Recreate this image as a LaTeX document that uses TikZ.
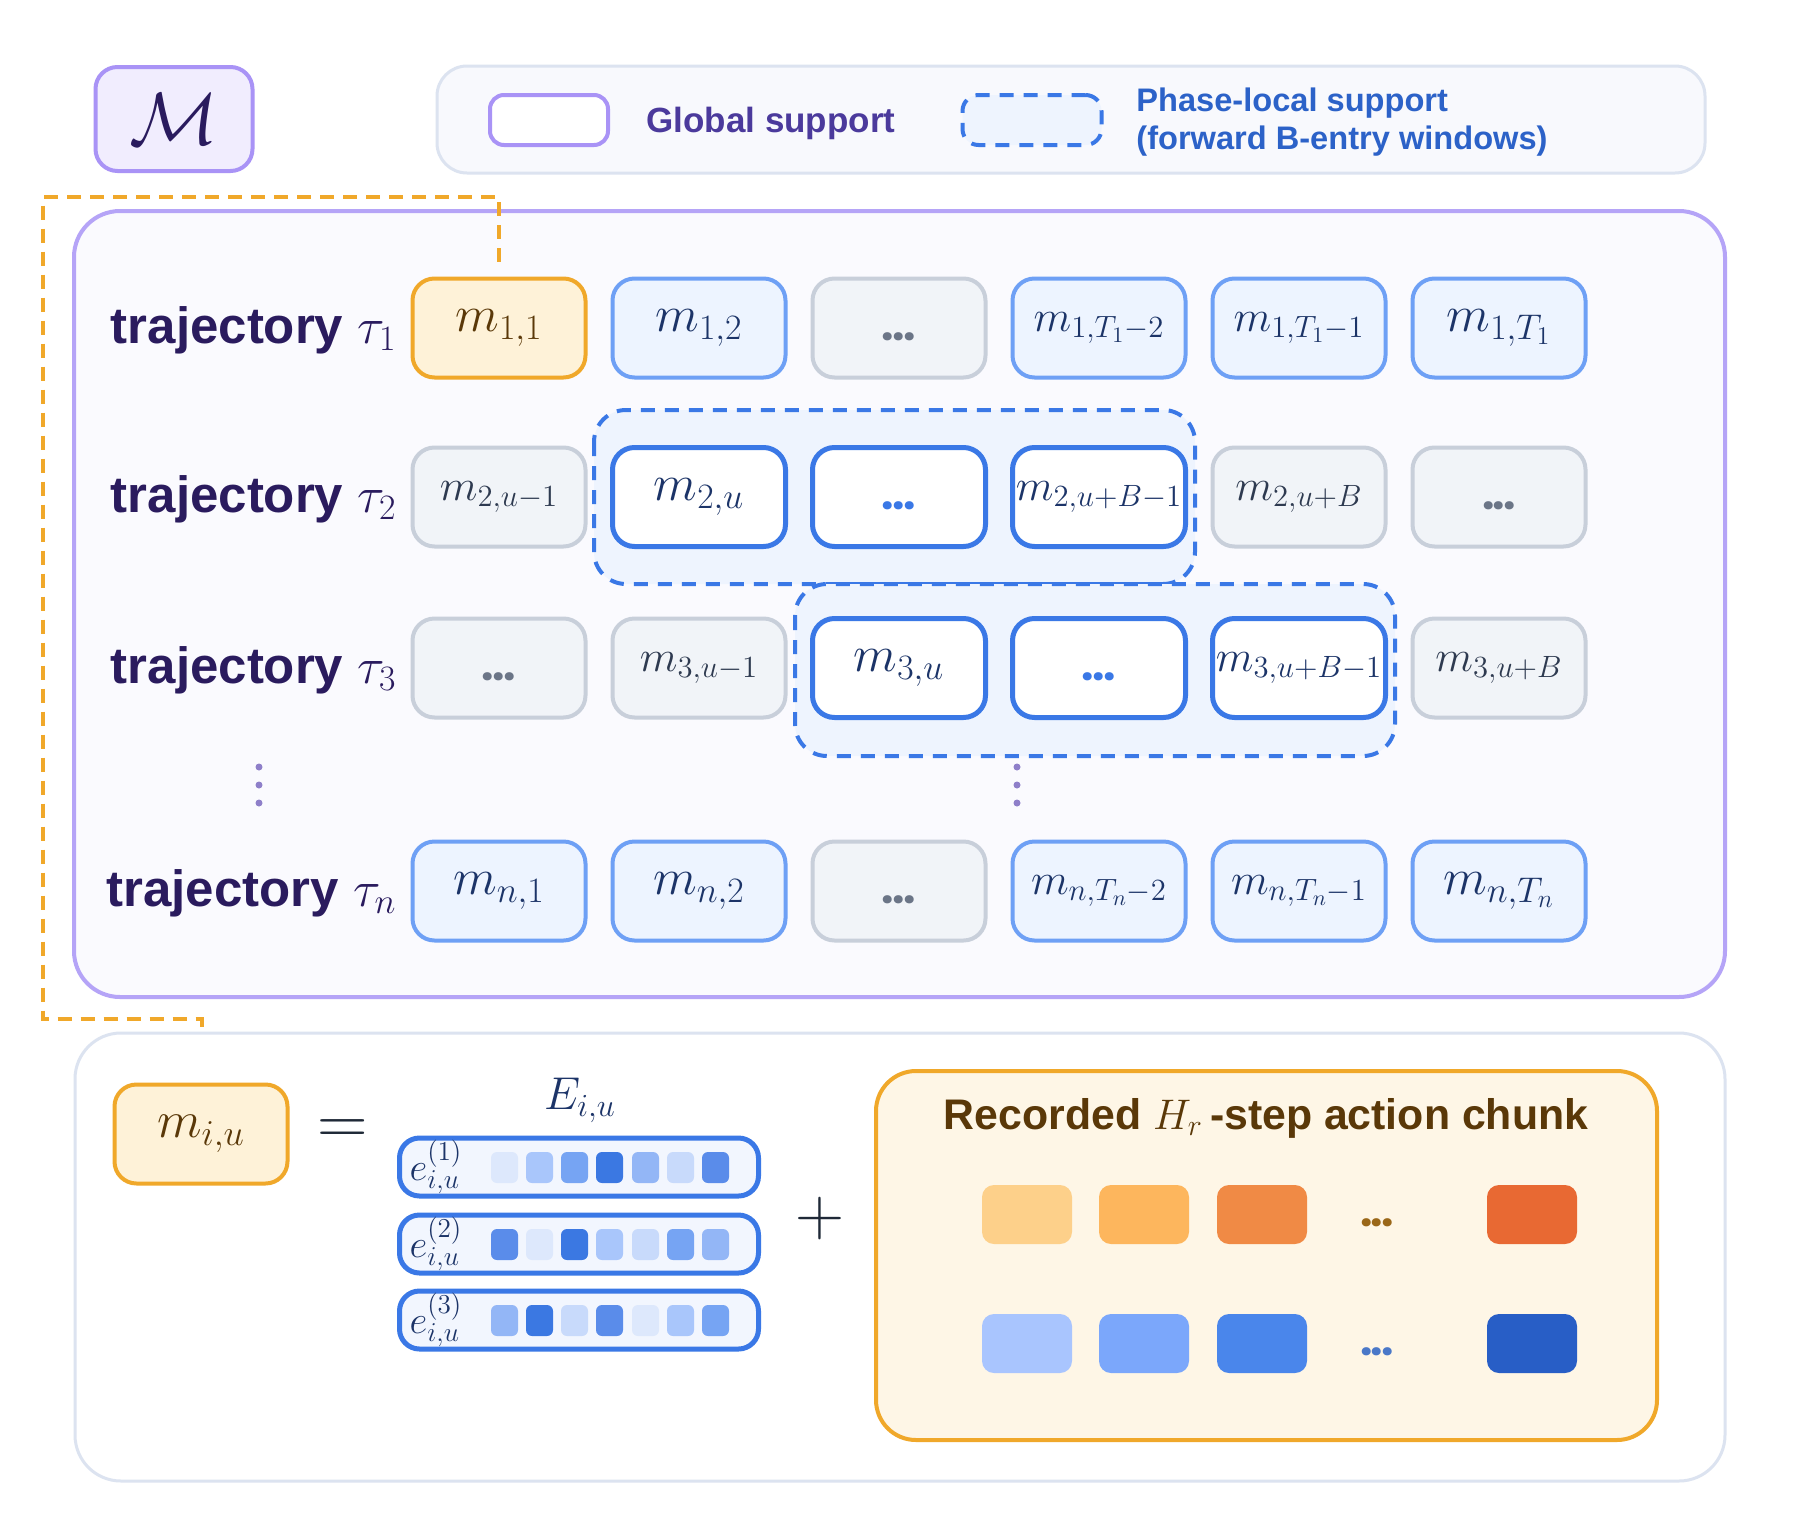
\RequirePackage{fix-cm}
\documentclass[tikz,border=0pt]{standalone}
\usepackage[no-math]{fontspec}
\setmainfont{Liberation Sans}
\newfontfamily\fuentepuntos{Poppins}

\definecolor{naranjaF}{HTML}{FEF2D8}
\definecolor{naranjaB}{HTML}{F0A82A}
\definecolor{marron}{HTML}{5A3808}
\definecolor{azulF}{HTML}{EDF4FF}
\definecolor{azulB}{HTML}{6EA0F5}
\definecolor{azulT}{HTML}{1C3468}
\definecolor{grisF}{HTML}{F1F4F8}
\definecolor{grisB}{HTML}{C8CFDA}
\definecolor{grisT}{HTML}{2E3A50}
\definecolor{grisP}{HTML}{6B7587}
\definecolor{activaB}{HTML}{3A78E6}
\definecolor{ventanaF}{HTML}{EEF4FE}
\definecolor{barraF}{HTML}{F2F6FE}
\definecolor{lila}{HTML}{A993F6}
\definecolor{lilaF}{HTML}{F1EDFE}
\definecolor{lilaPanel}{HTML}{B5A4F7}
\definecolor{fondoPanel}{HTML}{FAFAFE}
\definecolor{bordeGris}{HTML}{DCE3F0}
\definecolor{fondoLeyenda}{HTML}{F8F9FD}
\definecolor{tinta}{HTML}{2A1B5E}
\definecolor{moradoL}{HTML}{4B3A9C}
\definecolor{azulL}{HTML}{2C62C8}
\definecolor{puntoV}{HTML}{8E7FC9}
\definecolor{tinta2}{HTML}{1F2937}
\definecolor{crema}{HTML}{FEF6E6}
\definecolor{acc1}{HTML}{FDD08A}
\definecolor{acc2}{HTML}{FDB65D}
\definecolor{acc3}{HTML}{F08A45}
\definecolor{acc4}{HTML}{E86933}
\definecolor{acb1}{HTML}{A9C5FE}
\definecolor{acb2}{HTML}{7BA7FB}
\definecolor{acb3}{HTML}{4A86EB}
\definecolor{acb4}{HTML}{285EC6}
\definecolor{marronP}{HTML}{9A6718}
\definecolor{azulP}{HTML}{4A78C8}
\definecolor{embA}{HTML}{DDE8FC}
\definecolor{embB}{HTML}{C8DAFB}
\definecolor{embC}{HTML}{A9C6FB}
\definecolor{embD}{HTML}{93B6F6}
\definecolor{embE}{HTML}{76A4F3}
\definecolor{embF}{HTML}{5A8CEA}
\definecolor{embG}{HTML}{3B78E2}

\newcommand{\tamano}[1]{\fontsize{#1}{#1}\selectfont}
\newcommand{\puntos}[1]{\raisebox{-6pt}[0pt][0pt]{\color{#1}\fuentepuntos\tamano{22}\bfseries .\kern-0.8pt.\kern-0.8pt.}}

\begin{document}
\begin{tikzpicture}[x=0.5pt,y=-0.5pt,
    celda/.style={rounded corners=11pt, line width=2pt, minimum width=86.5pt, minimum height=49.5pt, inner sep=0pt, font=\tamano{25.5}},
    naranja/.style={celda, fill=naranjaF, draw=naranjaB, text=marron},
    azul/.style={celda, fill=azulF, draw=azulB, text=azulT},
    gris/.style={celda, fill=grisF, draw=grisB, text=grisT},
    activa/.style={celda, fill=white, draw=activaB, line width=2.5pt, text=azulT},
    chica/.style={font=\tamano{22}},
    ventana/.style={draw=activaB, fill=ventanaF, line width=2pt, dash pattern=on 7pt off 5pt, rounded corners=16pt},
    etiqueta/.style={anchor=east, inner sep=0pt, text=tinta, font=\tamano{25.5}},
    barra/.style={draw=activaB, fill=barraF, line width=2.5pt, rounded corners=10pt, minimum width=179.5pt, minimum height=29pt},
    conector/.style={draw=naranjaB, line width=2pt, dash pattern=on 7pt off 4.5pt}]

    % Fondo y margenes
    \fill[white] (0,0) rectangle (1800,1526);
    \useasboundingbox (0,0) rectangle (1800,1526);

    % Caja M
    \node[draw=lila, fill=lilaF, line width=2pt, rounded corners=11pt, minimum width=78.5pt, minimum height=52pt, text=tinta, font=\tamano{37}] (M) at (174,119) {$\mathcal{M}$};

    % Leyenda
    \draw[line width=1.5pt, draw=bordeGris, fill=fondoLeyenda, rounded corners=15pt] (437,66) rectangle (1705,173);
    \node[draw=lila, fill=white, line width=2pt, rounded corners=7pt, minimum width=59pt, minimum height=25pt] (lg1) at (549,120) {};
    \node[anchor=west, inner sep=0pt, text=moradoL, font=\tamano{17.5}\bfseries] (tg1) at (646,123) {Global support};
    \node[ventana, rounded corners=8pt, minimum width=69.5pt, minimum height=25pt] (lg2) at (1032,120) {};
    \node[anchor=west, inner sep=0pt, align=left, text=azulL, font=\tamano{16.3}\bfseries] (tg2) at (1136,122) {Phase-local support\\[2.5pt](forward B-entry windows)};

    % Panel de trayectorias
    \draw[line width=2pt, draw=lilaPanel, fill=fondoPanel, rounded corners=23pt] (74,211) rectangle (1725,997);

    % Ventanas locales
    \draw[ventana] (594,410) rectangle (1195,584);
    \draw[ventana] (795,584) rectangle (1395,756);

    % Etiquetas de fila
    \node[etiqueta] (t1) at (397,330) {\textbf{trajectory} $\tau_1$};
    \node[etiqueta] (t2) at (397,499) {\textbf{trajectory} $\tau_2$};
    \node[etiqueta] (t3) at (397,670) {\textbf{trajectory} $\tau_3$};
    \node[etiqueta] (tn) at (397,893) {\textbf{trajectory} $\tau_n$};

    % Fila 1
    \node[naranja] (c11) at (499,328) {$m_{1,1}$};
    \node[azul] (c12) at (699,328) {$m_{1,2}$};
    \node[gris] (c13) at (899,328) {\puntos{grisP}};
    \node[azul, chica] (c14) at (1099,328) {$m_{1,T_1-2}$};
    \node[azul, chica] (c15) at (1299,328) {$m_{1,T_1-1}$};
    \node[azul] (c16) at (1499,328) {$m_{1,T_1}$};

    % Fila 2
    \node[gris, chica] (c21) at (499,497) {$m_{2,u-1}$};
    \node[activa] (c22) at (699,497) {$m_{2,u}$};
    \node[activa] (c23) at (899,497) {\puntos{activaB}};
    \node[activa, chica] (c24) at (1099,497) {$m_{2,u+B-1}$};
    \node[gris, chica] (c25) at (1299,497) {$m_{2,u+B}$};
    \node[gris] (c26) at (1499,497) {\puntos{grisP}};

    % Fila 3
    \node[gris] (c31) at (499,668) {\puntos{grisP}};
    \node[gris, chica] (c32) at (699,668) {$m_{3,u-1}$};
    \node[activa] (c33) at (899,668) {$m_{3,u}$};
    \node[activa] (c34) at (1099,668) {\puntos{activaB}};
    \node[activa, chica] (c35) at (1299,668) {$m_{3,u+B-1}$};
    \node[gris, chica] (c36) at (1499,668) {$m_{3,u+B}$};

    % Fila n
    \node[azul] (cn1) at (499,891) {$m_{n,1}$};
    \node[azul] (cn2) at (699,891) {$m_{n,2}$};
    \node[gris] (cn3) at (899,891) {\puntos{grisP}};
    \node[azul, chica] (cn4) at (1099,891) {$m_{n,T_n-2}$};
    \node[azul, chica] (cn5) at (1299,891) {$m_{n,T_n-1}$};
    \node[azul] (cn6) at (1499,891) {$m_{n,T_n}$};

    % Puntos verticales
    \fill[puntoV] (259,767) circle (1.75pt) (259,785) circle (1.75pt) (259,803) circle (1.75pt);
    \fill[puntoV] (1017,767) circle (1.75pt) (1017,785) circle (1.75pt) (1017,803) circle (1.75pt);

    % Panel inferior
    \draw[line width=1.5pt, draw=bordeGris, fill=white, rounded corners=23pt] (75,1033) rectangle (1725,1481);

    % Conector naranja
    \coordinate (fin) at (202,1027);
    \draw[conector] ([yshift=7.5pt]c11.north) |- (43,197) |- (202,1019) -- (fin);

    % m_{i,u} = E_{i,u}
    \node[naranja, font=\tamano{26}] (mi) at (201,1134) {$m_{i,u}$};
    \node[text=tinta2, font=\tamano{35}] (igual) at (343,1132) {$=$};
    \node[text=azulT, font=\tamano{23}] (E) at (580,1100) {$E_{i,u}$};
    \node[barra] (b1) at (579,1167) {};
    \node[barra] (b2) at (579,1244) {};
    \node[barra] (b3) at (579,1320) {};
    \node[text=azulT, font=\tamano{19.5}] (e1) at (436,1167) {$e_{i,u}^{(1)}$};
    \node[text=azulT, font=\tamano{19.5}] (e2) at (436,1244) {$e_{i,u}^{(2)}$};
    \node[text=azulT, font=\tamano{19.5}] (e3) at (436,1320) {$e_{i,u}^{(3)}$};

    % Componentes de cada vector
    \fill[embA, rounded corners=3pt] (491,1152) rectangle ++(27,31);
    \fill[embC, rounded corners=3pt] (526,1152) rectangle ++(27,31);
    \fill[embE, rounded corners=3pt] (561,1152) rectangle ++(27,31);
    \fill[embG, rounded corners=3pt] (596,1152) rectangle ++(27,31);
    \fill[embD, rounded corners=3pt] (632,1152) rectangle ++(27,31);
    \fill[embB, rounded corners=3pt] (667,1152) rectangle ++(27,31);
    \fill[embF, rounded corners=3pt] (702,1152) rectangle ++(27,31);

    \fill[embF, rounded corners=3pt] (491,1229) rectangle ++(27,31);
    \fill[embA, rounded corners=3pt] (526,1229) rectangle ++(27,31);
    \fill[embG, rounded corners=3pt] (561,1229) rectangle ++(27,31);
    \fill[embC, rounded corners=3pt] (596,1229) rectangle ++(27,31);
    \fill[embB, rounded corners=3pt] (632,1229) rectangle ++(27,31);
    \fill[embE, rounded corners=3pt] (667,1229) rectangle ++(27,31);
    \fill[embD, rounded corners=3pt] (702,1229) rectangle ++(27,31);

    \fill[embD, rounded corners=3pt] (491,1305) rectangle ++(27,31);
    \fill[embG, rounded corners=3pt] (526,1305) rectangle ++(27,31);
    \fill[embB, rounded corners=3pt] (561,1305) rectangle ++(27,31);
    \fill[embF, rounded corners=3pt] (596,1305) rectangle ++(27,31);
    \fill[embA, rounded corners=3pt] (632,1305) rectangle ++(27,31);
    \fill[embC, rounded corners=3pt] (667,1305) rectangle ++(27,31);
    \fill[embE, rounded corners=3pt] (702,1305) rectangle ++(27,31);

    \node[text=tinta2, font=\tamano{34}] (mas) at (820,1218) {$+$};

    % Bloque de acciones
    \draw[line width=2pt, draw=naranjaB, fill=crema, rounded corners=20pt] (876,1071) rectangle (1657,1440);
    \node[text=marron, font=\tamano{21.4}\bfseries] (titulo) at (1266,1118) {Recorded $H_r$\,-step action chunk};

    \fill[acc1, rounded corners=6pt] (982,1185) rectangle ++(90,59);
    \fill[acc2, rounded corners=6pt] (1099,1185) rectangle ++(90,59);
    \fill[acc3, rounded corners=6pt] (1217,1185) rectangle ++(90,59);
    \node (pa) at (1377,1214) {\puntos{marronP}};
    \fill[acc4, rounded corners=6pt] (1487,1185) rectangle ++(90,59);

    \fill[acb1, rounded corners=6pt] (982,1314) rectangle ++(90,59);
    \fill[acb2, rounded corners=6pt] (1099,1314) rectangle ++(90,59);
    \fill[acb3, rounded corners=6pt] (1217,1314) rectangle ++(90,59);
    \node (pb) at (1377,1343) {\puntos{azulP}};
    \fill[acb4, rounded corners=6pt] (1487,1314) rectangle ++(90,59);
\end{tikzpicture}
\end{document}
